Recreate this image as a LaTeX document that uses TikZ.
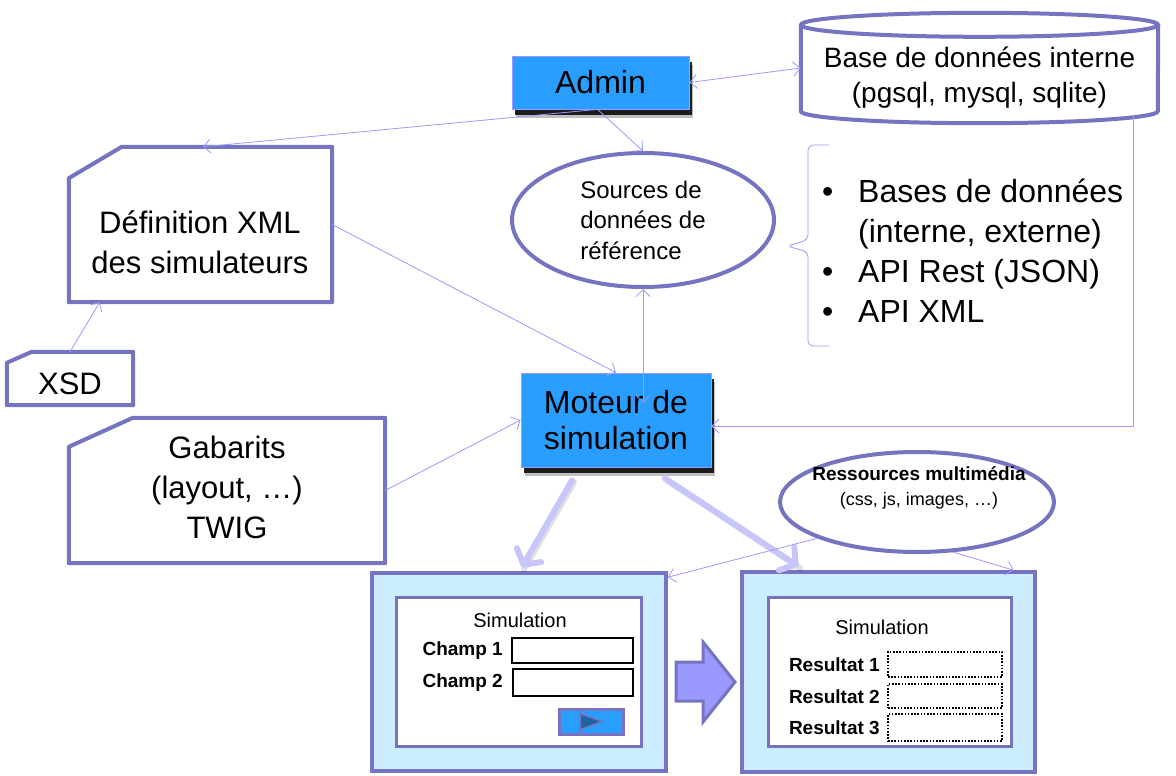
\documentclass[tikz,border=0pt]{standalone}
\usepackage{fontspec}
\setmainfont{Liberation Sans}
\usetikzlibrary{arrows.meta,calc,shapes.geometric,shadows}
\definecolor{bord}{RGB}{116,116,192}
\definecolor{conncol}{RGB}{153,153,255}
\definecolor{boxblue}{RGB}{42,158,255}
\definecolor{scrfill}{RGB}{204,236,255}
\definecolor{thickcol}{RGB}{198,198,250}
\definecolor{bigarrowcol}{RGB}{153,153,255}
\definecolor{btntri}{RGB}{30,100,160}
\newcommand\fsz[2]{\fontsize{#1}{#2}\selectfont}
\begin{document}
\begin{tikzpicture}[x=1pt,y=-1pt,
  every node/.style={inner sep=0pt},
  snip/.style={draw=bord, line width=4pt, line join=round, fill=white},
  conn/.style={draw=conncol, line width=0.8pt, -{Straight Barb[length=7pt,width=14pt]}},
  biconn/.style={draw=conncol, line width=0.8pt, {Straight Barb[length=7pt,width=14pt]}-{Straight Barb[length=7pt,width=14pt]}},
  bluebox/.style={draw=conncol, line width=0.8pt, fill=boxblue, align=center,
    drop shadow={shadow xshift=4pt, shadow yshift=-9pt, fill=black, opacity=0.25},
    drop shadow={shadow xshift=3pt, shadow yshift=-6pt, fill=black, opacity=0.85}},
  bigtext/.style={font=\fsz{31}{40}, align=center},
  ellbox/.style={ellipse, draw=bord, line width=4pt, fill=white},
  thickarrow/.style={draw=thickcol, line width=6pt, line cap=round, -{Straight Barb[length=11pt,width=28pt,round]}},
  scrout/.style={draw=bord, line width=3.5pt, fill=scrfill},
  scrin/.style={draw=bord, line width=3pt, fill=white},
  field/.style={draw=black, line width=2pt, fill=white},
  dotfield/.style={draw=black, line width=1.6pt, dash pattern=on 1.6pt off 1.6pt},
  lbl/.style={font=\bfseries\fsz{19}{22}, anchor=east}
]
\useasboundingbox (0,0) rectangle (1176,776);

% ---- Admin
\node[bluebox, minimum width=177pt, minimum height=53pt, font=\fsz{32}{36}] (admin) at (600.5,82.5) {Admin};

% ---- Database cylinder
\node[minimum width=357pt, minimum height=110pt] (db) at (979.5,68) {};
\draw[draw=bord, line width=4pt, fill=white]
  ([yshift=-12pt]db.north west) -- ([yshift=12pt]db.south west)
  arc[start angle=180, end angle=360, x radius=178.5pt, y radius=12pt]
  -- ([yshift=-12pt]db.north east);
\draw[draw=bord, line width=4pt] ([yshift=-12pt]db.north) ellipse [x radius=178.5pt, y radius=12pt];
\node[font=\fsz{28}{35}, align=center] (dbtext) at (979.5,78) {Base de données interne\\(pgsql, mysql, sqlite)};

% ---- Definition XML
\node[minimum width=263pt, minimum height=155pt] (def) at (200.5,224.5) {};
\draw[snip] ([yshift=124pt]def.south west) -- ([xshift=53pt]def.north west) -- (def.north east) -- (def.south east) -- (def.south west) -- cycle;
\node[bigtext] (deftext) at (200,242) {Définition XML\\des simulateurs};

% ---- XSD
\node[minimum width=126pt, minimum height=53pt] (xsd) at (70,378.5) {};
\draw[snip] ([yshift=-11pt]xsd.north west) -- ([xshift=25pt]xsd.north west) -- (xsd.north east) -- (xsd.south east) -- (xsd.south west) -- cycle;
\node[bigtext] (xsdtext) at (70,384) {XSD};

% ---- Gabarits
\node[minimum width=316pt, minimum height=145pt] (gab) at (227,490.5) {};
\draw[snip] ([yshift=-29pt]gab.north west) -- ([xshift=64pt]gab.north west) -- (gab.north east) -- (gab.south east) -- (gab.south west) -- cycle;
\node[bigtext] (gabtext) at (227,487) {Gabarits\\(layout, …)\\TWIG};

% ---- Sources
\node[ellbox, minimum width=262pt, minimum height=134pt, font=\fsz{24}{30.5}, align=left] (src) at (643,220) {Sources de\\données de\\référence};

% ---- Bullet list + brace
\node[anchor=west, font=\fsz{32}{40}, align=left] (list) at (822,251)
  {\makebox[36pt][l]{•}Bases de données\\\hspace*{36pt}(interne, externe)\\\makebox[36pt][l]{•}API Rest (JSON)\\\makebox[36pt][l]{•}API XML};
\coordinate (brtop) at (829,145);
\coordinate (brtip) at (787,246);
\coordinate (brbot) at (829,346);
\draw[draw=conncol, line width=0.8pt, rounded corners=5pt]
  (brtop) -- (808,145) -- (808,240) -- (brtip) -- (808,252) -- (808,346) -- (brbot);

% ---- Moteur
\node[bluebox, minimum width=190pt, minimum height=94pt, font=\fsz{32}{36}] (moteur) at (616,420) {Moteur de\\simulation};

% ---- Ressources
\node[ellbox, minimum width=274pt, minimum height=100pt] (res) at (917,502) {};
\node[align=center, font=\fsz{18}{25}] (restext) at (919,488) {{\bfseries\fsz{19}{25}Ressources multimédia}\\(css, js, images, …)};

% ---- Left screen
\node[scrout, minimum width=294pt, minimum height=198pt] (scr1) at (519,672) {};
\node[scrin, minimum width=245pt, minimum height=149pt] (in1) at (518.5,671.5) {};
\node[font=\fsz{20}{24}] (sim1) at (520,620) {Simulation};
\node[lbl] (ch1) at (503,651) {Champ 1};
\node[lbl] (ch2) at (503,683) {Champ 2};
\node[field, minimum width=121pt, minimum height=25pt] (f1) at (572.5,650.5) {};
\node[field, minimum width=120pt, minimum height=27pt] (f2) at (573,682.5) {};
\node[draw=bord, line width=3pt, fill=boxblue, minimum width=64pt, minimum height=25pt] (btn) at (591,721.5) {};
\draw[draw=bord, line width=2.5pt] ([xshift=-11pt]btn.north) -- ([xshift=-11pt]btn.south);
\filldraw[fill=btntri, draw=bord, line width=1.5pt]
  ([xshift=-11pt,yshift=8pt]btn.center) -- ([xshift=11pt]btn.center) -- ([xshift=-11pt,yshift=-8pt]btn.center) -- cycle;

% ---- Big arrow
\filldraw[fill=bigarrowcol, draw=bord, line width=3pt, line join=miter]
  (676,662) -- (703,662) -- (703,642) -- (735,682) -- (703,722) -- (703,701) -- (676,701) -- cycle;

% ---- Right screen
\node[scrout, minimum width=293pt, minimum height=200pt] (scr2) at (888.5,672) {};
\node[scrin, minimum width=243pt, minimum height=149pt] (in2) at (889.5,671.5) {};
\node[font=\fsz{20}{24}] (sim2) at (882,627) {Simulation};
\node[lbl] (r1) at (880,665) {Resultat 1};
\node[lbl] (r2) at (880,697) {Resultat 2};
\node[lbl] (r3) at (880,728) {Resultat 3};
\node[dotfield, minimum width=114pt, minimum height=25pt] (d1) at (945,664.5) {};
\node[dotfield, minimum width=114pt, minimum height=24pt] (d2) at (945,696) {};
\node[dotfield, minimum width=114pt, minimum height=27pt] (d3) at (945,727.5) {};

% ---- Thick arrows
\draw[draw=black, opacity=0.12, line width=6pt, line cap=round]
  ([xshift=-42pt,yshift=-15pt]moteur.south) -- ([xshift=5pt,yshift=2pt]scr1.north);
\draw[draw=black, opacity=0.12, line width=6pt, line cap=round]
  ([xshift=51pt,yshift=-13pt]moteur.south) -- ([xshift=60pt,yshift=2pt]scr2.north west);
\draw[thickarrow] ([xshift=-44pt,yshift=-13pt]moteur.south) -- ([xshift=3pt,yshift=4pt]scr1.north);
\draw[thickarrow] ([xshift=49pt,yshift=-11pt]moteur.south) -- ([xshift=58pt,yshift=4pt]scr2.north west);

% ---- Thin connectors
\draw[biconn] (admin.east) -- (db.west);
\draw[conn] ([xshift=-3pt]admin.south) -- ([xshift=2.5pt]def.north);
\draw[conn] ([xshift=-3pt]admin.south) -- (src.north);
\draw[conn] (def.east) -- (moteur.north);
\draw[conn] (xsd.north) -- ([xshift=31pt]def.south west);
\draw[conn] (gab.east) -- (moteur.west);
\draw[biconn] (src.south) -- ([xshift=27pt,yshift=17pt]moteur.center);
\draw[conn] ([xshift=153.5pt,yshift=8pt]db.south) |- ([yshift=-6pt]moteur.east);
\draw[conn] (res.200) -- ([yshift=-6pt]scr1.north east);
\draw[conn] (res.-54) -- ([xshift=-23pt]scr2.north east);
\end{tikzpicture}
\end{document}
